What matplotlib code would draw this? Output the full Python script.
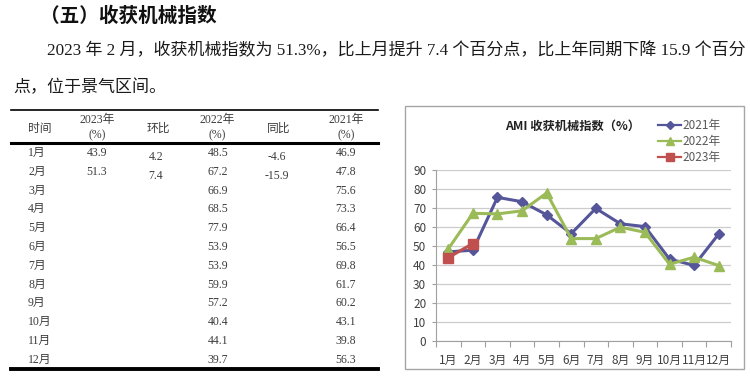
import numpy as np
import matplotlib
matplotlib.use('Agg')
import matplotlib.pyplot as plt
from matplotlib.lines import Line2D
from matplotlib.patches import Rectangle

plt.rcParams['font.family'] = ['Noto Sans CJK SC', 'DejaVu Sans']

# data
months = ['1月', '2月', '3月', '4月', '5月', '6月', '7月', '8月', '9月', '10月', '11月', '12月']
idx_2023 = [43.9, 51.3]
mom_2023 = [4.2, 7.4]        # 环比
idx_2022 = [48.5, 67.2, 66.9, 68.5, 77.9, 53.9, 53.9, 59.9, 57.2, 40.4, 44.1, 39.7]
yoy_2023 = [-4.6, -15.9]     # 同比
idx_2021 = [46.9, 47.8, 75.6, 73.3, 66.4, 56.5, 69.8, 61.7, 60.2, 43.1, 39.8, 56.3]
yticks = list(range(0, 100, 10))

heading = '（五）收获机械指数'
para1 = '2023 年 2 月，收获机械指数为 51.3%，比上月提升 7.4 个百分点，比上年同期下降 15.9 个百分'
para2 = '点，位于景气区间。'
chart_title = 'AMI 收获机械指数（%）'

W, H = 750, 376
fig = plt.figure(figsize=(W / 100, H / 100), dpi=100)
fig.patch.set_facecolor('white')


def fx(x):
    return x / W


def fy(y):
    return 1 - y / H


def put(x, y, s, width=None, **kw):
    kw.setdefault('va', 'center')
    t = fig.text(fx(x), fy(y), s, **kw)
    if width:
        r = fig.canvas.get_renderer()
        w = t.get_window_extent(r).width
        t.set_fontsize(t.get_fontsize() * width / w)
    return t


serif = ['Liberation Serif', 'Noto Sans CJK SC']

# heading + paragraph
put(40, 16, heading, width=176, fontsize=13, fontweight='bold', color='#111111')
p1 = put(47, 51, para1, width=699, fontsize=11.5, family=serif, color='#1a1a1a')
put(13, 88, para2, fontsize=p1.get_fontsize(), family=serif, color='#1a1a1a')

# table
for y, lw in [(110, 1.2), (143, 2.2), (369, 2.8)]:
    fig.add_artist(Line2D([fx(11), fx(378)], [fy(y), fy(y)], color='black', lw=lw))

tc = '#3c3c3c'
tfs = 8.5
put(28, 129, '时间', fontsize=tfs, family=serif, color=tc)
put(158, 129, '环比', fontsize=tfs, family=serif, color=tc, ha='center')
put(279, 129, '同比', fontsize=tfs, family=serif, color=tc, ha='center')
for xc, yr in [(97, '2023年'), (217, '2022年'), (346, '2021年')]:
    put(xc, 120, yr, fontsize=tfs, family=serif, color=tc, ha='center')
    put(xc, 135, '(%)', fontsize=tfs, family=serif, color=tc, ha='center')

row0, step = 153, 18.8
for i, m in enumerate(months):
    y = row0 + i * step
    put(28, y, m, fontsize=tfs, family=serif, color=tc)
    put(218, y, f'{idx_2022[i]:.1f}', fontsize=tfs, family=serif, color=tc, ha='center')
    put(346, y, f'{idx_2021[i]:.1f}', fontsize=tfs, family=serif, color=tc, ha='center')
for i in range(len(idx_2023)):
    y = row0 + i * step
    put(97, y, f'{idx_2023[i]:.1f}', fontsize=tfs, family=serif, color=tc, ha='center')
    put(156, y + 4, f'{mom_2023[i]:.1f}', fontsize=tfs, family=serif, color=tc, ha='center')
    put(277, y + 4, f'{yoy_2023[i]:.1f}', fontsize=tfs, family=serif, color=tc, ha='center')

# chart box
fig.add_artist(Rectangle((fx(405), fy(369)), (744 - 405) / W, (369 - 106) / H,
                         transform=fig.transFigure, fill=False, ec='#a6a6a6', lw=1))

ax = fig.add_axes([fx(436), fy(341), (731 - 436) / W, (341 - 170) / H])
x = np.arange(len(months)) + 0.5
c21, c22, c23 = '#55569a', '#9bbb59', '#c0504d'
ax.plot(x, idx_2021, color=c21, lw=2.2, marker='D', ms=5.5, label='2021年')
ax.plot(x, idx_2022, color=c22, lw=2.2, marker='^', ms=7, label='2022年')
ax.plot(x[:len(idx_2023)], idx_2023, color=c23, lw=2.2, marker='s', ms=7, label='2023年')

ax.set_xlim(0, 12)
ax.set_ylim(0, 90)
ax.set_yticks(yticks)
ax.set_xticks(range(13))
ax.set_xticklabels([])
ax.set_xticks(x, minor=True)
ax.set_xticklabels(months, minor=True)
ax.tick_params(axis='x', which='major', length=4, color='#a0a0a0')
ax.tick_params(axis='x', which='minor', length=0, pad=9, labelsize=8.5, labelcolor='#404040')
ax.tick_params(axis='y', length=3, color='#a0a0a0', labelsize=8.5, labelcolor='#404040', pad=4)
ax.grid(axis='y', color='#cccccc', lw=0.9)
ax.set_axisbelow(True)
for s in ['top', 'right']:
    ax.spines[s].set_visible(False)
for s in ['left', 'bottom']:
    ax.spines[s].set_color('#a0a0a0')
ax.patch.set_alpha(0)

put(505, 126, chart_title, width=135, fontsize=9, fontweight='bold', color='#222222')

leg = fig.legend(loc='upper left', bbox_to_anchor=(fx(658), fy(119)), frameon=False,
                 fontsize=8.5, handlelength=1.95, handletextpad=0.15, labelspacing=0.25,
                 borderpad=0, borderaxespad=0, markerscale=0.75)
for t in leg.get_texts():
    t.set_color('#595959')
for h in leg.legend_handles:
    h.set_linewidth(1.6)

fig.savefig('out.png', dpi=100)
